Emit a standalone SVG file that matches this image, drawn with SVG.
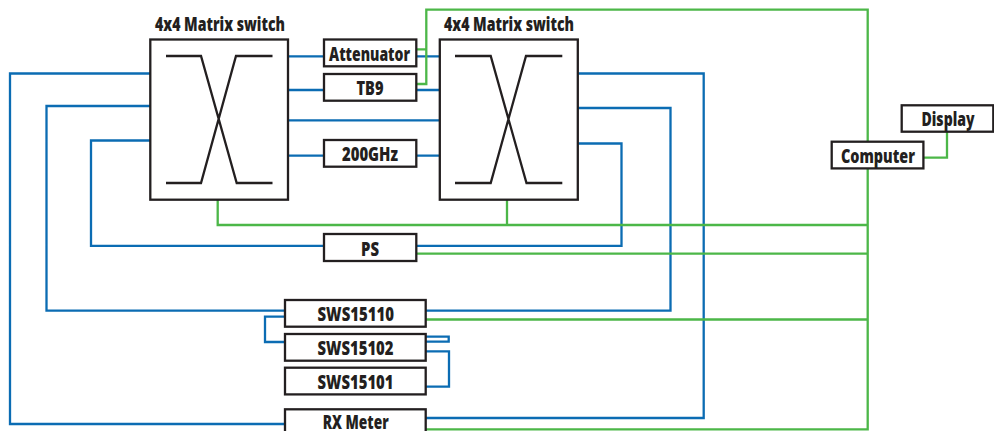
<svg xmlns="http://www.w3.org/2000/svg" width="994" height="431" viewBox="0 0 994 431">
<style>
text{font-family:"Open Sans","Liberation Sans",sans-serif;font-weight:800;font-size:19px;fill:#231f20}
.box{fill:#fff;stroke:#231f20;stroke-width:2.3}
.x{fill:none;stroke:#231f20;stroke-width:2.3}
.b{fill:none;stroke:#0b6cb3;stroke-width:2.3}
.g{fill:none;stroke:#4cb748;stroke-width:2.3}
</style>
<rect width="994" height="431" fill="#fff"/>
<g id="connectors">
<path class="b" d="M150 73.500H10V424H285M150 106H46.500V310.700H285M150 140.500H91V245.800H324M288 56.300H324M288 90H324M288 120.300H440M288 155.700H324M416 56.300H440M416 90H440M416 155.700H440M578 73.500H703.700V418H426M578 108H670.500V310.700H426M578 143.500H621.500V245.800H416M285 316.700H265V342H285M426 336.700H448.700V341.700H426M426 351.300H449V386.700H426"/>
<path class="g" d="M416 49.300H426.300V9.700H867.700V429.300H426M416 84H426.300V49.300M217.700 200V225H867.700M507 200V225M416 253.700H867.700M426 319.500H867.700M924 157.700H947V131.700"/>
</g>
<g id="switch1">
<rect class="box" x="150.300" y="39.500" width="137.700" height="160.200"/>
<path class="x" d="M166 56H201L236.700 183H272.500M272.500 56H236L201 183H166"/>
<text x="155" y="30.700" textLength="130" lengthAdjust="spacingAndGlyphs">4x4 Matrix switch</text>
</g>
<g id="switch2">
<rect class="box" x="439.800" y="39.500" width="138" height="160.200"/>
<path class="x" d="M455 56H490.700L526.500 183H562.300M562.300 56H526L490.700 183H455"/>
<text x="444" y="30.700" textLength="130" lengthAdjust="spacingAndGlyphs">4x4 Matrix switch</text>
</g>
<g id="attenuator"><rect class="box" x="324" y="39.500" width="92.300" height="26.800"/><text x="329" y="61" textLength="81" lengthAdjust="spacingAndGlyphs">Attenuator</text></g>
<g id="tb9"><rect class="box" x="324" y="74" width="92.300" height="26.700"/><text x="356.500" y="95" textLength="27" lengthAdjust="spacingAndGlyphs">TB9</text></g>
<g id="ghz200"><rect class="box" x="324" y="140" width="92.300" height="26.700"/><text x="342" y="161" textLength="56" lengthAdjust="spacingAndGlyphs">200GHz</text></g>
<g id="ps"><rect class="box" x="324" y="234" width="92.300" height="27"/><text x="361" y="255.500" textLength="18" lengthAdjust="spacingAndGlyphs">PS</text></g>
<g id="sws15110"><rect class="box" x="285" y="300" width="140.700" height="26.700"/><text x="317.500" y="321" textLength="76.500" lengthAdjust="spacingAndGlyphs">SWS15110</text></g>
<g id="sws15102"><rect class="box" x="285" y="334" width="140.700" height="26.700"/><text x="317.500" y="355" textLength="76" lengthAdjust="spacingAndGlyphs">SWS15102</text></g>
<g id="sws15101"><rect class="box" x="285" y="367.700" width="140.700" height="26.700"/><text x="317.500" y="388.700" textLength="76" lengthAdjust="spacingAndGlyphs">SWS15101</text></g>
<g id="rxmeter"><rect class="box" x="285" y="409.300" width="140.700" height="26"/><text x="322.700" y="428.500" textLength="66" lengthAdjust="spacingAndGlyphs">RX Meter</text></g>
<g id="computer"><rect class="box" x="831.700" y="141.700" width="91.700" height="26.700"/><text x="841" y="162.700" textLength="74" lengthAdjust="spacingAndGlyphs">Computer</text></g>
<g id="display"><rect class="box" x="901.700" y="105.300" width="91.600" height="26.400"/><text x="921.500" y="126" textLength="53" lengthAdjust="spacingAndGlyphs">Display</text></g>
</svg>
